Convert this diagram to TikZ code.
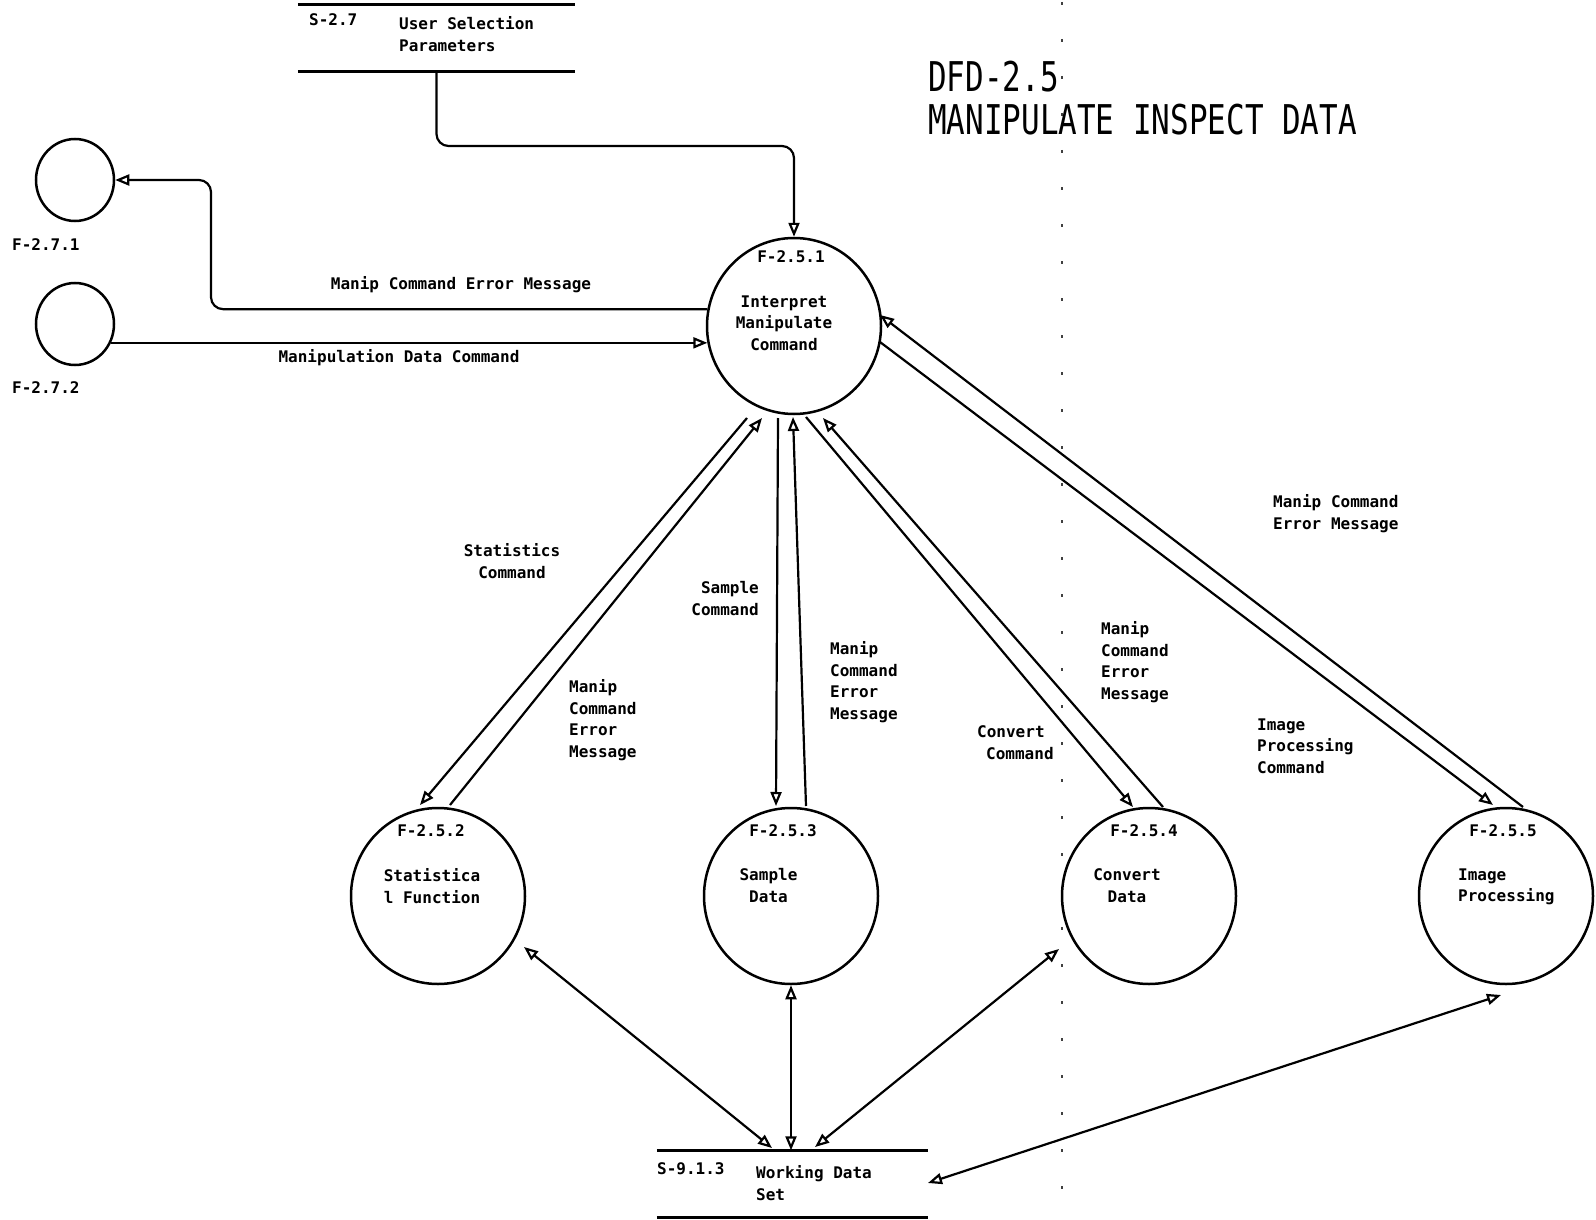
\documentclass[tikz,border=0pt]{standalone}
\usepackage{fontspec}
\usepackage{graphicx}
\usetikzlibrary{arrows.meta,shapes.geometric}
\newfontfamily\plotfont{DejaVu Sans Mono}
\newfontfamily\titlefont{DejaVu Sans Mono}

\begin{document}
\begin{tikzpicture}[x=1pt,y=-1pt,
  tip/.tip={Triangle[open,length=14pt,width=11pt]},
  flow/.style={line width=2.2pt,-tip},
  twoway/.style={line width=2.2pt,tip-tip},
  bubble/.style={ellipse,draw,line width=2.5pt,inner sep=0pt,minimum width=174pt,minimum height=176pt},
  extbubble/.style={ellipse,draw,line width=2.5pt,inner sep=0pt,minimum width=78pt,minimum height=82pt},
  storebox/.style={inner sep=0pt,minimum width=#1,minimum height=67pt},
  storeline/.style={line width=2.5pt},
  lbl/.style={font={\plotfont\bfseries\fontsize{16}{21.5}\selectfont},inner sep=0pt,align=left,anchor=north west},
  ctr/.style={font={\plotfont\bfseries\fontsize{16}{21.5}\selectfont},inner sep=0pt,align=center,anchor=north},
  rgt/.style={font={\plotfont\bfseries\fontsize{16}{21.5}\selectfont},inner sep=0pt,align=right,anchor=north east}
]
% page
\fill[white] (0,0) rectangle (1596,1220);
\useasboundingbox (0,0) rectangle (1596,1220);

% fold line of the sheet
\draw[black!75,line width=1.5pt,dash pattern=on 3pt off 34pt] (1062,2) -- (1062,1220);

% title
\node[anchor=north west,inner sep=0pt] (title) at (928,61)
  {\scalebox{0.755}[1]{\titlefont\fontsize{41}{41}\selectfont
   \begin{tabular}{@{}l@{}}DFD-2.5\\MANIPULATE INSPECT DATA\end{tabular}}};

% processes
\node[bubble] (p1) at (794,326) {};
\node[bubble] (p2) at (438,896) {};
\node[bubble] (p3) at (791,896) {};
\node[bubble] (p4) at (1149,896) {};
\node[bubble] (p5) at (1506,896) {};

% external processes
\node[extbubble] (e1) at (75,180) {};
\node[extbubble] (e2) at (75,324) {};
\node[lbl,anchor=west] at (12,245) {F-2.7.1};
\node[lbl,anchor=west] at (12,388) {F-2.7.2};

% data stores
\node[storebox=277pt] (s27) at (436.5,38) {};
\draw[storeline] (s27.north west) -- (s27.north east);
\draw[storeline] (s27.south west) -- (s27.south east);
\node[lbl] at (309,13.5) {S-2.7};
\node[lbl] at (399,16.5) {User Selection\\Parameters};

\node[storebox=271pt] (s913) at (792.5,1184) {};
\draw[storeline] (s913.north west) -- (s913.north east);
\draw[storeline] (s913.south west) -- (s913.south east);
\node[lbl] at (657,1162.5) {S-9.1.3};
\node[lbl] at (756,1165.5) {Working Data\\Set};

% texts inside the processes
\node[ctr] at (791,250) {F-2.5.1};
\node[ctr] at (784,295.5) {Interpret\\Manipulate\\Command};
\node[ctr] at (431,824) {F-2.5.2};
\node[ctr] at (432,868.5) {Statistica\\l Function};
\node[ctr] at (783,824) {F-2.5.3};
\node[ctr] at (768.5,868.5) {Sample\\Data};
\node[ctr] at (1144,824) {F-2.5.4};
\node[ctr] at (1127,868.5) {Convert\\Data};
\node[ctr] at (1503,824) {F-2.5.5};
\node[lbl] at (1458,868.5) {Image\\Processing};

% flows at the top
\coordinate (bend) at (0,146);
\draw[flow,rounded corners=12pt] (s27.south) -- (s27.south |- bend) -- (p1.north |- bend) -- (p1.north);

\coordinate (errx) at (211,0);
\draw[flow,rounded corners=12pt] (p1.169) -- (p1.169 -| errx) -- (errx |- e1.east) -- (e1.east);
\node[ctr] at (461,276.5) {Manip Command Error Message};

\draw[flow] (e2.-27 |- p1.191) -- (p1.191);
\node[ctr] at (399,349.5) {Manipulation Data Command};

% flows between F-2.5.1 and the lower processes
\coordinate (sa) at (747,418);  \coordinate (sb) at (420,805);
\coordinate (sc) at (450,805);  \coordinate (sd) at (762,418);
\draw[flow] (sa) -- (sb);
\draw[flow] (sc) -- (sd);

\coordinate (ma) at (778,418);  \coordinate (mb) at (776,806);
\coordinate (mc) at (806,806);  \coordinate (md) at (793,417);
\draw[flow] (ma) -- (mb);
\draw[flow] (mc) -- (md);

\coordinate (ca) at (806,417);  \coordinate (cb) at (1133,807);
\coordinate (cc) at (1163,807); \coordinate (cd) at (823,418);
\draw[flow] (ca) -- (cb);
\draw[flow] (cc) -- (cd);

\coordinate (ia) at (880,342);  \coordinate (ib) at (1493,805);
\coordinate (ic) at (1523,807); \coordinate (id) at (880,315);
\draw[flow] (ia) -- (ib);
\draw[flow] (ic) -- (id);

\node[ctr] at (512,543.5) {Statistics\\Command};
\node[rgt] at (759,581.5) {Sample\\Command};
\node[lbl] at (569,679.5) {Manip\\Command\\Error\\Message};
\node[lbl] at (830,641.5) {Manip\\Command\\Error\\Message};
\node[lbl] at (977,725.5) {Convert\\\hspace*{9pt}Command};
\node[lbl] at (1101,621.5) {Manip\\Command\\Error\\Message};
\node[lbl] at (1257,718.5) {Image\\Processing\\Command};
\node[lbl] at (1273,494.5) {Manip Command\\Error Message};

% flows with the working data set
\coordinate (w2) at (524,947);   \coordinate (v2) at (772,1148);
\coordinate (w4) at (1059,949);  \coordinate (v4) at (815,1147);
\coordinate (w5) at (1501,995);  \coordinate (v5) at (928,1183);
\draw[twoway] (w2) -- (v2);
\draw[twoway] (p3.south) -- (p3.south |- s913.north);
\draw[twoway] (v4) -- (w4);
\draw[twoway] (v5) -- (w5);
\end{tikzpicture}
\end{document}
